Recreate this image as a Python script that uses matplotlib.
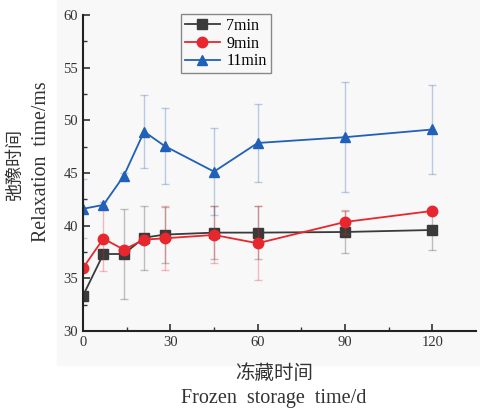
import numpy as np
import matplotlib.pyplot as plt
from matplotlib.patches import Rectangle

days = [0, 7, 14, 21, 28, 45, 60, 90, 120]

t7 = [33.35, 37.31, 37.31, 38.86, 39.15, 39.34, 39.34, 39.40, 39.59]
e7 = [0.3, 0.3, 4.3, 3.05, 2.65, 2.55, 2.5, 2.0, 1.9]

t9 = [35.98, 38.77, 37.73, 38.67, 38.80, 39.12, 38.33, 40.35, 41.40]
e9 = [0.3, 3.1, 0.3, 0.4, 3.05, 2.7, 3.5, 1.15, 0.3]

t11 = [41.60, 41.97, 44.72, 48.93, 47.57, 45.13, 47.85, 48.40, 49.13]
e11 = [2.8, 0.3, 0.3, 3.45, 3.6, 4.1, 3.68, 5.2, 4.24]

labels = ['7min', '9min', '11min']
colors = ['#3a3a3a', '#e8262e', '#2060b8']
markers = ['s', 'o', '^']

plt.rcParams['font.family'] = ['Liberation Serif', 'Noto Sans CJK SC']

fig = plt.figure(figsize=(4.81, 4.11), dpi=100)
# light grey panel behind the plot
fig.patches.append(Rectangle((57/481, 1-365/411), 1-57/481, 365/411,
                             transform=fig.transFigure, color='#f8f8f8', zorder=-10))
ax = fig.add_axes([83/481, 80/411, 393/481, 316/411])
ax.patch.set_alpha(0)

for ys, es, lab, c, m in zip([t7, t9, t11], [e7, e9, e11], labels, colors, markers):
    ax.errorbar(days, ys, yerr=es, fmt='none', ecolor=c, alpha=0.3,
                elinewidth=1, capsize=3, capthick=1)
    ax.plot(days, ys, color=c, marker=m, markersize=7.5 if m != 's' else 6.5,
            linewidth=1.3, label=lab)

ax.set_xlim(0, 135)
ax.set_ylim(30, 60)
ax.set_xticks([0, 30, 60, 90, 120])
ax.set_xticks([15, 45, 75, 105], minor=True)
ax.set_yticks([30, 35, 40, 45, 50, 55, 60])
ax.set_yticks(np.arange(32.5, 60, 5), minor=True)
ax.tick_params(which='both', direction='in', labelsize=10.5, colors='#333333')
ax.tick_params(which='major', length=5, width=1.2)
ax.tick_params(which='minor', length=3, width=1)
ax.spines['top'].set_visible(False)
ax.spines['right'].set_visible(False)
for s in ['left', 'bottom']:
    ax.spines[s].set_linewidth(1.5)
    ax.spines[s].set_color('#222222')

leg = ax.legend(loc='upper left', bbox_to_anchor=(0.249, 1.003), fontsize=11.5,
                fancybox=False, edgecolor='#888888', framealpha=1,
                handlelength=2.2, labelspacing=0.1, borderpad=0.25,
                handletextpad=0.4, borderaxespad=0)
leg.get_frame().set_facecolor('#f8f8f8')

fig.text(274/481, 1-373/411, '冻藏时间', ha='center', va='center',
         fontsize=14, color='#333333', family=['Noto Sans CJK SC'])
fig.text(274/481, 1-398/411, 'Frozen  storage  time/d', ha='center', va='center',
         fontsize=14.5, color='#333333')
fig.text(15/481, 1-164/411, '弛豫时间', ha='center', va='center', rotation=90,
         fontsize=13, color='#333333', family=['Noto Sans CJK SC'])
fig.text(42/481, 1-162/411, 'Relaxation  time/ms', ha='center', va='center', rotation=90,
         fontsize=14.3, color='#333333')

fig.savefig('out.png', dpi=100)
